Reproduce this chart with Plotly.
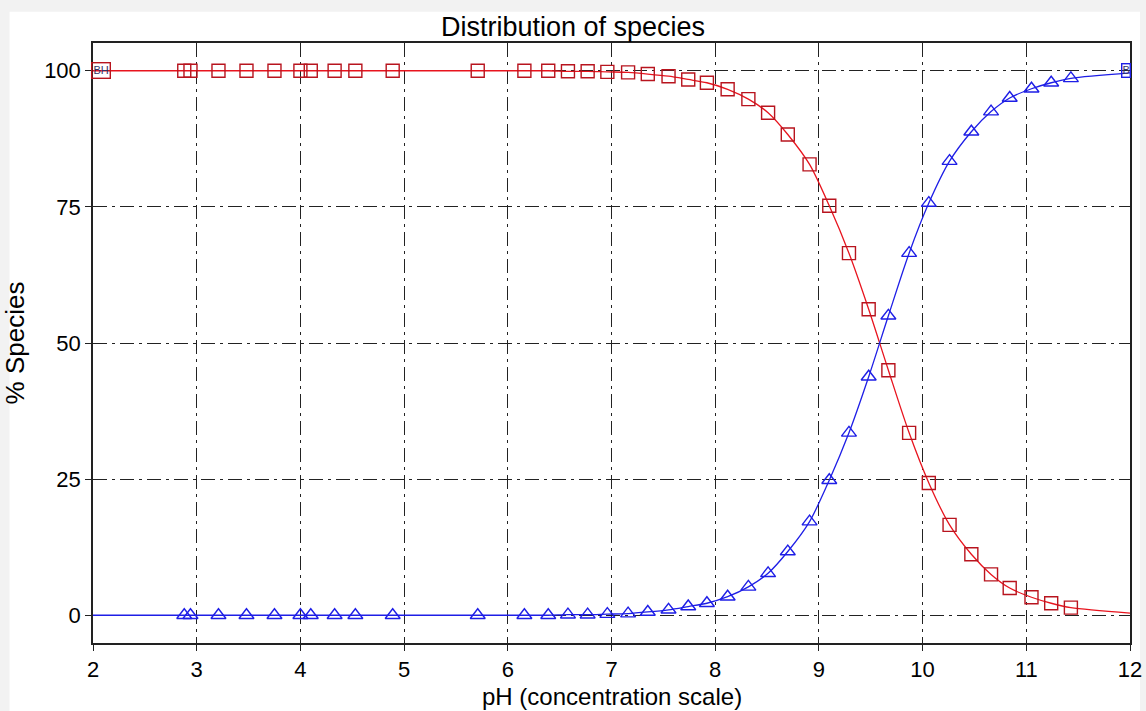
import plotly.graph_objects as go

# Titration points (pH)
ph_points = [2.88, 2.94, 3.21, 3.48, 3.75, 4.00, 4.10, 4.33, 4.53, 4.89, 5.71,
             6.16, 6.39, 6.58, 6.77, 6.96, 7.16, 7.35, 7.55, 7.74, 7.92, 8.12,
             8.32, 8.51, 8.70, 8.91, 9.10, 9.29, 9.48, 9.67, 9.87, 10.06, 10.26,
             10.47, 10.66, 10.84, 11.05, 11.24, 11.43]
bh_percent = [100, 100, 100, 100, 100, 100, 100, 100, 100, 100, 100,
              100, 100, 99.9, 99.9, 99.8, 99.7, 99.4, 99.0, 98.4, 97.8, 96.6,
              94.8, 92.3, 88.3, 82.8, 75.2, 66.5, 56.2, 45.0, 33.5, 24.3, 16.6,
              11.2, 7.5, 5.0, 3.3, 2.2, 1.4]
b_percent = [0, 0, 0, 0, 0, 0, 0, 0, 0, 0, 0,
             0, 0, 0.1, 0.1, 0.2, 0.3, 0.6, 1.0, 1.6, 2.2, 3.4,
             5.2, 7.7, 11.7, 17.2, 24.8, 33.5, 43.8, 55.0, 66.5, 75.7, 83.4,
             88.8, 92.5, 95.0, 96.7, 97.8, 98.6]

# End values of the fitted curves at the axis limits
ph_start, ph_end = 2.0, 12.0
bh_start, bh_end = 100.0, 0.4
b_start, b_end = 0.0, 99.6

# Species label positions
label_bh_ph, label_b_ph, label_y = 2.08, 11.96, 100

x_ticks = [2, 3, 4, 5, 6, 7, 8, 9, 10, 11, 12]
y_ticks = [0, 25, 50, 75, 100]

RED_LINE = "#e8141e"
RED_MARK = "#b8141e"
BLUE_LINE = "#1e1ee6"
BLUE_MARK = "#1e1ee6"
FONT = "Liberation Sans"

fig = go.Figure()

line_x = [ph_start] + ph_points + [ph_end]
fig.add_trace(go.Scatter(x=line_x, y=[bh_start] + bh_percent + [bh_end],
                         mode="lines", line=dict(color=RED_LINE, width=1.3, shape="spline", smoothing=0.8),
                         hoverinfo="skip", showlegend=False))
fig.add_trace(go.Scatter(x=line_x, y=[b_start] + b_percent + [b_end],
                         mode="lines", line=dict(color=BLUE_LINE, width=1.3, shape="spline", smoothing=0.8),
                         hoverinfo="skip", showlegend=False))
fig.add_trace(go.Scatter(x=ph_points, y=bh_percent, mode="markers", name="BH",
                         marker=dict(symbol="square-open", size=13, color=RED_MARK,
                                     line=dict(width=1.4, color=RED_MARK)),
                         showlegend=False))
fig.add_trace(go.Scatter(x=ph_points, y=b_percent, mode="markers", name="B",
                         marker=dict(symbol="triangle-up-open", size=13, color=BLUE_MARK,
                                     line=dict(width=1.4, color=BLUE_MARK)),
                         showlegend=False))

fig.add_annotation(x=label_bh_ph, y=label_y, text="BH", showarrow=False,
                   font=dict(size=11, color="#333366", family=FONT),
                   bordercolor=RED_MARK, borderwidth=1.4, borderpad=1, bgcolor="rgba(255,255,255,0)")
fig.add_annotation(x=label_b_ph, y=label_y, text="B", showarrow=False,
                   font=dict(size=11, color="#333366", family=FONT),
                   bordercolor=BLUE_MARK, borderwidth=1.4, borderpad=0, bgcolor="rgba(255,255,255,0)")

# x-axis title placed as a paper annotation
fig.add_annotation(x=0.5, y=-0.089, xref="paper", yref="paper", text="pH (concentration scale)",
                   showarrow=False, xanchor="center", yanchor="middle",
                   font=dict(size=24, color="black", family=FONT))

# White panel on a light grey screenshot edge
fig.add_shape(type="rect", xref="paper", yref="paper", x0=-0.0805, x1=1.0096, y0=-0.12, y1=1.052,
              fillcolor="white", line=dict(width=0), layer="below")

axis_common = dict(showline=True, linecolor="#222222", linewidth=1.5, mirror=True,
                   showgrid=True, gridcolor="#222222", gridwidth=1.3, griddash="14px,5px,3px,5px",
                   ticks="outside", ticklen=6, tickcolor="#222222", tickwidth=1.3,
                   zeroline=False, automargin=False,
                   tickfont=dict(size=22, color="black", family=FONT))

fig.update_layout(
    width=1146, height=711,
    margin=dict(l=93, r=16, t=43, b=68),
    paper_bgcolor="#f2f2f2", plot_bgcolor="white",
    font=dict(family=FONT, color="black"),
    title=dict(text="Distribution of species", x=0.5, xanchor="center", y=0.962, yanchor="middle",
               font=dict(size=27, color="black", family=FONT)),
    xaxis=dict(range=[2, 12], tickvals=x_ticks, **axis_common),
    yaxis=dict(range=[-5.1, 105.1], tickvals=y_ticks, title=dict(text="% Species", standoff=16,
               font=dict(size=26)), **axis_common),
)

fig.write_html("out.html", config={"displayModeBar": False},
               post_script="document.body.style.margin='0';document.body.style.overflow='hidden';")
